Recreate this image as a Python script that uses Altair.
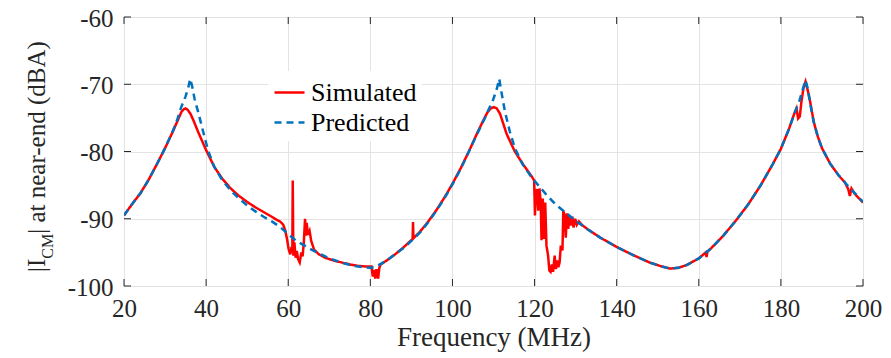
import altair as alt
import pandas as pd

# ---------------- data ----------------
SERIES = ["Simulated", "Predicted"]
COLORS = ["#ff0000", "#0072bd"]
X_TICKS = [20, 40, 60, 80, 100, 120, 140, 160, 180, 200]
Y_TICKS = [-100, -90, -80, -70, -60]
X_TITLE = "Frequency (MHz)"
Y_TITLE_PARTS = ["|I", "CM", "| at near-end (dBA)"]

SIM = [(20,-89.5),(22,-87.8),(24,-86.2),(26,-84.2),(28,-81.9),(30,-79.5),(32,-76.9),(33,-75.5),
       (34,-74.1),(34.6,-73.7),(35,-73.6),(35.5,-73.8),(36.2,-74.4),(37,-75.5),(38,-77.0),(39,-78.4),
       (40,-79.8),(42,-82.3),(44,-84.1),(46,-85.5),(48,-86.6),(50,-87.5),(52,-88.3),(54,-89.0),
       (56,-89.7),(57,-90.1),(58,-90.4),(58.8,-90.9),(59.3,-91.8),(59.7,-93.0),(60.1,-94.5),(60.5,-95.3),
       (60.8,-94.2),(61.0,-95.0),(61.1,-84.3),(61.25,-95.5),(61.5,-93.5),(61.8,-95.8),(62.1,-94.8),
       (62.4,-96.0),(62.8,-96.5),(63.2,-95.0),(63.5,-95.6),(63.8,-93.5),(64.1,-90.0),(64.3,-92.5),
       (64.5,-90.6),(64.8,-92.4),(65.2,-91.8),(65.6,-93.3),(66.3,-94.6),(67.5,-95.3),(69,-95.8),
       (71,-96.2),(73,-96.5),(75,-96.8),(77,-97.0),(79,-97.1),(80.3,-97.1),(80.6,-98.6),(80.9,-97.6),
       (81.2,-98.9),(81.5,-97.5),(81.9,-98.9),(82.2,-97.3),(82.5,-96.8),(84,-96.2),(86,-95.3),
       (88,-94.3),(90.3,-93.0),(90.4,-90.5),(90.5,-92.9),(92,-92.0),(94,-90.5),(96,-88.8),(98,-86.9),
       (100,-84.8),(102,-82.5),(104,-80.0),(106,-77.3),(107.5,-75.4),(108.5,-74.2),(109.3,-73.6),
       (110.1,-73.4),(110.8,-73.6),(111.6,-74.4),(112.4,-75.9),(113.2,-77.4),(115.2,-80.0),
       (117.3,-82.0),(119.3,-83.7),(119.9,-84.3),(120.1,-89.5),(120.3,-86.0),(120.6,-85.6),
       (120.9,-88.8),(121.2,-85.5),(121.5,-87.5),(121.7,-93.2),(122.0,-87.0),(122.3,-93.0),
       (122.6,-87.6),(122.9,-94.0),(123.3,-95.5),(123.6,-97.7),(123.9,-97.9),(124.2,-96.8),
       (124.5,-97.9),(124.9,-95.5),(125.2,-97.5),(125.5,-96.2),(125.8,-97.2),(126.1,-96.5),
       (126.4,-94.0),(126.8,-94.7),(127.0,-88.8),(127.3,-89.5),(127.6,-92.8),(127.9,-89.2),
       (128.2,-91.5),(128.5,-89.5),(128.8,-91.0),(129.2,-89.7),(129.5,-91.3),(129.9,-90.0),
       (130.3,-90.9),(130.8,-90.4),(131.5,-90.9),(133,-91.6),(136,-92.8),(140,-94.2),(144,-95.4),
       (148,-96.5),(151,-97.1),(153,-97.4),(155,-97.3),(157,-96.9),(160,-95.9),(161.7,-95.0),
       (161.9,-95.7),(162.1,-94.9),(163,-94.4),(166,-92.5),(169,-90.3),(172,-87.9),(175,-85.1),
       (178,-81.9),(180,-79.6),(182,-76.6),(183.3,-74.3),(183.8,-73.6),(184.2,-75.1),(184.6,-74.8),
       (185.0,-72.6),(185.5,-70.6),(186,-69.6),(186.5,-70.8),(187.1,-72.5),(188,-75.6),(189,-77.8),
       (190,-79.5),(192,-81.8),(194,-83.5),(195.6,-84.6),(196.4,-85.6),(196.8,-86.6),(197.2,-85.5),
       (198,-86.3),(200,-87.6)]

PRED = [(20,-89.5),(22,-87.8),(24,-86.2),(26,-84.2),(28,-81.9),(30,-79.5),(32,-76.8),(33,-75.2),
        (34,-73.3),(35,-71.8),(35.7,-70.4),(36.1,-69.2),(36.6,-70.3),(37.2,-72.2),(38.1,-74.2),
        (39.3,-77.1),(40.5,-79.9),(42,-82.3),(44,-84.3),(46,-85.8),(48,-87.0),(50,-88.0),(52,-88.9),
        (54,-89.7),(56,-90.4),(58,-91.2),(60,-92.3),(62,-93.3),(64,-94.0),(66,-94.7),(68,-95.3),
        (70,-95.9),(72,-96.3),(74,-96.7),(76,-97.0),(78,-97.2),(80,-97.3),(81,-97.2),(82,-96.9),
        (84,-96.2),(86,-95.3),(88,-94.4),(90,-93.3),(92,-92.1),(94,-90.6),(96,-88.9),(98,-87.0),
        (100,-84.9),(102,-82.6),(104,-80.0),(106,-77.4),(108,-74.9),(109,-73.5),(109.6,-72.9),
        (110.3,-71.6),(110.8,-70.7),(111.4,-69.2),(112.0,-71.4),(112.8,-74.1),(114.0,-77.1),
        (115.2,-79.5),(117,-81.8),(119,-83.6),(121,-85.1),(123,-86.5),(125,-87.8),(127,-88.8),
        (130,-90.3),(133,-91.6),(136,-92.8),(140,-94.2),(144,-95.4),(148,-96.5),(151,-97.1),
        (153,-97.4),(155,-97.3),(157,-96.9),(160,-95.9),(163,-94.4),(166,-92.5),(169,-90.3),
        (172,-87.9),(175,-85.1),(178,-81.9),(180,-79.6),(182,-76.6),(183.5,-74.0),(184.5,-72.5),
        (185.3,-70.8),(186,-69.4),(186.6,-70.8),(187.3,-73.4),(188,-75.6),(189,-77.8),(190,-79.5),
        (192,-81.8),(194,-83.5),(196,-84.9),(198,-86.2),(200,-87.5)]

# ---------------- tables ----------------
sim_df = pd.DataFrame(SIM, columns=["f", "v"]); sim_df["series"] = SERIES[0]
pred_df = pd.DataFrame(PRED, columns=["f", "v"]); pred_df["series"] = SERIES[1]
xt_df = pd.DataFrame({"f": X_TICKS})
yt_df = pd.DataFrame({"v": Y_TICKS})

W, H = 739, 269
FONT = "Liberation Serif"
INK = "#262626"
GRID = "#e3e3e3"

xscale = alt.Scale(domain=[20, 200], nice=False, zero=False)
yscale = alt.Scale(domain=[-100, -60], nice=False, zero=False)
cscale = alt.Scale(domain=SERIES, range=COLORS)
dscale = alt.Scale(domain=SERIES, range=[[1, 0], [7, 5]])

legend = alt.Legend(title=None, orient="none", legendX=144, legendY=54, fillColor="white",
                    padding=5, symbolType="stroke", symbolSize=900, symbolStrokeWidth=2.5,
                    labelFont=FONT, labelFontSize=26, labelColor="black", labelOffset=5,
                    rowPadding=0, labelLimit=300)

x_axis = alt.Axis(values=X_TICKS, title=X_TITLE, titleFont=FONT, titleFontSize=27,
                  titleFontWeight="normal", titleColor=INK, titlePadding=3,
                  labelFont=FONT, labelFontSize=25, labelColor=INK, labelPadding=10,
                  labelFlush=False, tickSize=0, domain=False, grid=True,
                  gridColor=GRID, gridWidth=1)
y_axis = alt.Axis(values=Y_TICKS, title="", labelExpr="'' + datum.value",
                  labelFont=FONT, labelFontSize=25, labelColor=INK, labelPadding=11,
                  labelOffset=1, tickSize=0, domain=False, grid=True, gridColor=GRID,
                  gridWidth=1)

X_ENC = alt.X("f:Q", scale=xscale, axis=x_axis, title=X_TITLE)
Y_ENC = alt.Y("v:Q", scale=yscale, axis=y_axis, title="")


def line_layer(df):
    return alt.Chart(df).mark_line(strokeWidth=2.5, clip=True).encode(
        x=X_ENC,
        y=Y_ENC,
        color=alt.Color("series:N", scale=cscale, legend=legend),
        strokeDash=alt.StrokeDash("series:N", scale=dscale, legend=legend),
    )


sim_layer = line_layer(sim_df)
pred_layer = line_layer(pred_df)

TL = 7
tick_style = dict(color=INK, strokeWidth=1)
bottom_ticks = alt.Chart(xt_df).mark_rule(**tick_style).encode(
    x=X_ENC, y=alt.value(H), y2=alt.value(H - TL))
top_ticks = alt.Chart(xt_df).mark_rule(**tick_style).encode(
    x=X_ENC, y=alt.value(0), y2=alt.value(TL))
left_ticks = alt.Chart(yt_df).mark_rule(**tick_style).encode(
    y=Y_ENC, x=alt.value(0), x2=alt.value(TL))
right_ticks = alt.Chart(yt_df).mark_rule(**tick_style).encode(
    y=Y_ENC, x=alt.value(W - TL), x2=alt.value(W))

# y-axis title with subscript, built from three rotated text pieces
FS_MAIN, FS_SUB = 25, 16
w1 = (0.2 + 0.333) * FS_MAIN
w2 = (0.667 + 0.889) * FS_SUB
y0 = 255
t1 = alt.Chart(pd.DataFrame({"s": [Y_TITLE_PARTS[0]]})).mark_text(
    angle=270, align="left", baseline="alphabetic", font=FONT, fontSize=FS_MAIN, color=INK
).encode(text="s:N", x=alt.value(-79), y=alt.value(y0))
t2 = alt.Chart(pd.DataFrame({"s": [Y_TITLE_PARTS[1]]})).mark_text(
    angle=270, align="left", baseline="alphabetic", font=FONT, fontSize=FS_SUB, color=INK
).encode(text="s:N", x=alt.value(-71), y=alt.value(y0 - w1))
t3 = alt.Chart(pd.DataFrame({"s": [Y_TITLE_PARTS[2]]})).mark_text(
    angle=270, align="left", baseline="alphabetic", font=FONT, fontSize=FS_MAIN, color=INK
).encode(text="s:N", x=alt.value(-79), y=alt.value(y0 - w1 - w2))

chart = alt.layer(
    sim_layer, pred_layer, bottom_ticks, top_ticks, left_ticks, right_ticks, t1, t2, t3
).properties(
    width=W, height=H,
    autosize=alt.AutoSizeParams(type="none"),
    padding={"left": 116, "top": 9, "right": 20, "bottom": 70},
).configure_view(stroke=INK, strokeWidth=1).configure(background="white")

chart.save("out.html", embed_options={"renderer": "svg", "actions": False})
